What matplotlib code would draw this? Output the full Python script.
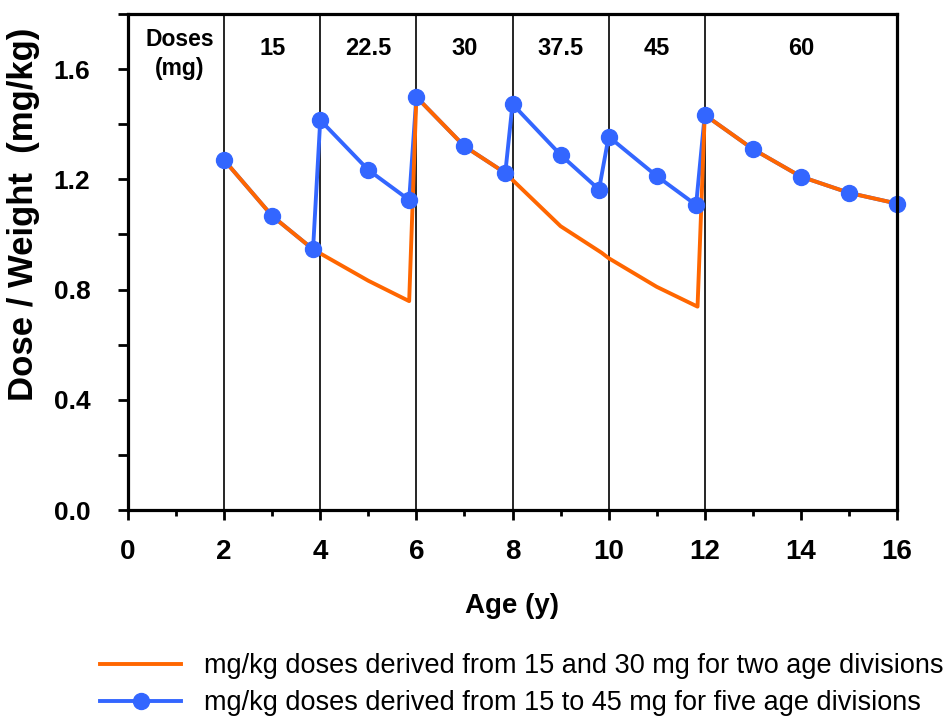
import matplotlib
matplotlib.use("Agg")
import matplotlib.pyplot as plt
from matplotlib.lines import Line2D
from matplotlib.ticker import MultipleLocator

plt.rcParams['font.family'] = ['Liberation Sans', 'DejaVu Sans']

# ---- data ----
orange_age = [2, 3, 3.85, 5, 5.85, 6, 7, 7.85, 9, 9.85, 10, 11, 11.85, 12, 13, 14, 15, 16]
orange_dose = [1.27, 1.067, 0.946, 0.832, 0.758, 1.499, 1.32, 1.223, 1.03, 0.934, 0.914,
               0.81, 0.738, 1.434, 1.31, 1.21, 1.151, 1.112]

blue_age = [2, 3, 3.85, 4, 5, 5.85, 6, 7, 7.85, 8, 9, 9.8, 10, 11, 11.82, 12, 13, 14, 15, 16]
blue_dose = [1.27, 1.067, 0.946, 1.415, 1.234, 1.125, 1.499, 1.32, 1.223, 1.473, 1.289,
             1.163, 1.355, 1.212, 1.107, 1.434, 1.31, 1.21, 1.151, 1.112]

division_ages = [2, 4, 6, 8, 10, 12]
dose_labels = ["15", "22.5", "30", "37.5", "45", "60"]
dose_label_x = [3, 5, 7, 9, 11, 14]

legend_labels = ["mg/kg doses derived from 15 and 30 mg for two age divisions",
                 "mg/kg doses derived from 15 to 45 mg for five age divisions"]

ORANGE = "#FF6600"
BLUE = "#3366FF"

fig = plt.figure(figsize=(9.49, 7.16), dpi=100)
ax = fig.add_axes([128/949, 1-510/716, (897-128)/949, (510-14)/716])

for xv in division_ages:
    ax.axvline(xv, color="black", lw=1.2, zorder=1)

ax.plot(blue_age, blue_dose, color=BLUE, lw=2.8, zorder=3, solid_joinstyle='round')
ax.plot(orange_age, orange_dose, color=ORANGE, lw=2.8, zorder=4, solid_joinstyle='round')
ax.plot(blue_age, blue_dose, ls='none', marker='o', ms=11.5, color=BLUE, zorder=5, clip_on=False)

ax.set_xlim(0, 16)
ax.set_ylim(0, 1.8)
ax.xaxis.set_major_locator(MultipleLocator(2))
ax.xaxis.set_minor_locator(MultipleLocator(1))
ax.yaxis.set_major_locator(MultipleLocator(0.4))
ax.yaxis.set_minor_locator(MultipleLocator(0.2))
ax.yaxis.set_major_formatter(plt.FuncFormatter(lambda v, p: f"{v:.1f}"))

for s in ax.spines.values():
    s.set_linewidth(2.3)
    s.set_zorder(6)

ax.tick_params(axis='x', which='major', direction='out', length=7, width=2, pad=14, labelsize=20)
ax.tick_params(axis='x', which='minor', direction='out', length=4, width=2)
ax.tick_params(axis='y', which='major', direction='out', length=7, width=2, pad=20, labelsize=19)
ax.tick_params(axis='y', which='minor', direction='out', length=7, width=2)
for lab in ax.get_xticklabels() + ax.get_yticklabels():
    lab.set_fontweight('bold')

ax.text(1.08, 1.655, "Doses\n(mg)", ha='center', va='center', fontsize=16.5,
        fontweight='bold', linespacing=1.3)
for xv, lab in zip(dose_label_x, dose_labels):
    ax.text(xv, 1.676, lab, ha='center', va='center', fontsize=17, fontweight='bold')

fig.text(512/949, 1-606/716, "Age (y)", ha='center', va='center', fontsize=20, fontweight='bold')
fig.text(24/949, 1-214/716, "Dose / Weight  (mg/kg)", ha='center', va='center', rotation=90,
         fontsize=25, fontweight='bold')

handles = [Line2D([], [], color=ORANGE, lw=2.8),
           Line2D([], [], color=BLUE, lw=2.8, marker='o', ms=11.5)]
fig.legend(handles, legend_labels, loc='upper left', bbox_to_anchor=(100/949, 1-653/716),
           frameon=False, fontsize=19.5, handlelength=3.0, handletextpad=0.85,
           labelspacing=0.42, borderpad=0, borderaxespad=0)

fig.savefig("out.png", dpi=100)
